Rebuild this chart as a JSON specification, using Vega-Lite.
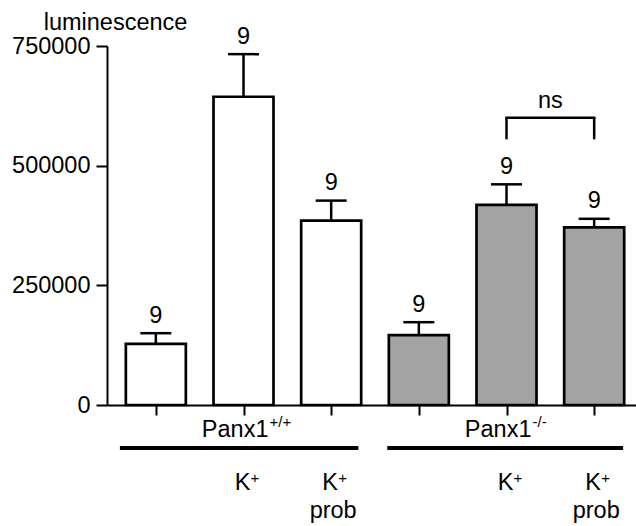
{
  "$schema": "https://vega.github.io/schema/vega-lite/v6.json",
  "autosize": "none",
  "padding": {"left": 107, "top": 46, "right": 0, "bottom": 121},
  "width": 529,
  "height": 359,
  "background": "white",
  "config": {
    "view": {"stroke": null},
    "font": "Liberation Sans",
    "text": {"font": "Liberation Sans", "color": "black"},
    "axis": {"domainColor": "black", "tickColor": "black", "grid": false, "domainWidth": 2, "tickWidth": 2}
  },
  "datasets": {
    "bars": [
      {"genotype": "Panx1+/+", "cond": "control", "pos": 1, "mean": 127500, "err": 150000, "n": "9"},
      {"genotype": "Panx1+/+", "cond": "K+", "pos": 2, "mean": 644000, "err": 733000, "n": "9"},
      {"genotype": "Panx1+/+", "cond": "K+ prob", "pos": 3, "mean": 385000, "err": 427000, "n": "9"},
      {"genotype": "Panx1-/-", "cond": "control", "pos": 4, "mean": 146000, "err": 173000, "n": "9"},
      {"genotype": "Panx1-/-", "cond": "K+", "pos": 5, "mean": 418000, "err": 461000, "n": "9"},
      {"genotype": "Panx1-/-", "cond": "K+ prob", "pos": 6, "mean": 371000, "err": 389000, "n": "9"}
    ],
    "bracket": [
      {"a": 5, "b": 6, "low": 555000, "high": 600000, "label": "ns"}
    ],
    "groups": [
      {"name": "Panx1", "sup": "+/+", "pos": 2, "start": 0.59, "end": 3.31},
      {"name": "Panx1", "sup": "-/-", "pos": 5, "start": 3.64, "end": 6.33}
    ],
    "klabels": [
      {"pos": 2, "k": "K", "plus": "+", "prob": ""},
      {"pos": 3, "k": "K", "plus": "+", "prob": "prob"},
      {"pos": 5, "k": "K", "plus": "+", "prob": ""},
      {"pos": 6, "k": "K", "plus": "+", "prob": "prob"}
    ]
  },
  "layer": [
    {
      "data": {"name": "bars"},
      "mark": {"type": "bar", "size": 60, "stroke": "black", "strokeWidth": 2.7},
      "encoding": {
        "x": {
          "field": "pos", "type": "quantitative",
          "scale": {"domain": [0.5, 6.42], "nice": false, "zero": false},
          "axis": {"values": [1, 2, 3, 4, 5, 6], "labels": false, "title": null, "tickSize": 10}
        },
        "y": {
          "field": "mean", "type": "quantitative",
          "scale": {"domain": [0, 750000], "nice": false},
          "axis": {
            "values": [0, 250000, 500000, 750000], "format": "d",
            "labelFontSize": 23.5, "labelColor": "black", "labelFont": "Liberation Sans",
            "labelPadding": 6, "tickSize": 11,
            "title": "luminescence", "titleAngle": 0, "titleX": 8, "titleY": -17,
            "titleAlign": "center", "titleBaseline": "alphabetic",
            "titleFontSize": 23.5, "titleFontWeight": "normal", "titleColor": "black", "titleFont": "Liberation Sans"
          }
        },
        "fill": {
          "field": "genotype", "type": "nominal",
          "scale": {"domain": ["Panx1+/+", "Panx1-/-"], "range": ["white", "#a3a3a3"]},
          "legend": null
        }
      }
    },
    {
      "data": {"name": "bars"},
      "mark": {"type": "rule", "strokeWidth": 2.5, "color": "black"},
      "encoding": {
        "x": {"field": "pos", "type": "quantitative"},
        "y": {"field": "mean", "type": "quantitative"},
        "y2": {"field": "err"}
      }
    },
    {
      "data": {"name": "bars"},
      "mark": {"type": "tick", "orient": "horizontal", "size": 31, "thickness": 2.5, "color": "black", "opacity": 1},
      "encoding": {
        "x": {"field": "pos", "type": "quantitative"},
        "y": {"field": "err", "type": "quantitative"}
      }
    },
    {
      "data": {"name": "bars"},
      "mark": {"type": "text", "fontSize": 23.5, "baseline": "alphabetic", "dy": -10.5, "align": "center"},
      "encoding": {
        "x": {"field": "pos", "type": "quantitative"},
        "y": {"field": "err", "type": "quantitative"},
        "text": {"field": "n"}
      }
    },
    {
      "data": {"name": "bracket"},
      "mark": {"type": "rule", "strokeWidth": 2.5, "color": "black", "strokeCap": "square"},
      "encoding": {
        "x": {"field": "a", "type": "quantitative"},
        "x2": {"field": "b"},
        "y": {"field": "high", "type": "quantitative"}
      }
    },
    {
      "data": {"name": "bracket"},
      "mark": {"type": "rule", "strokeWidth": 2.5, "color": "black"},
      "encoding": {
        "x": {"field": "a", "type": "quantitative"},
        "y": {"field": "low", "type": "quantitative"},
        "y2": {"field": "high"}
      }
    },
    {
      "data": {"name": "bracket"},
      "mark": {"type": "rule", "strokeWidth": 2.5, "color": "black"},
      "encoding": {
        "x": {"field": "b", "type": "quantitative"},
        "y": {"field": "low", "type": "quantitative"},
        "y2": {"field": "high"}
      }
    },
    {
      "data": {"name": "bracket"},
      "mark": {"type": "text", "fontSize": 23.5, "baseline": "alphabetic", "align": "center", "dy": -10, "dx": 0},
      "encoding": {
        "x": {"datum": 5.5, "type": "quantitative"},
        "y": {"field": "high", "type": "quantitative"},
        "text": {"field": "label"}
      }
    },
    {
      "data": {"name": "groups"},
      "mark": {"type": "text", "fontSize": 23.5, "baseline": "alphabetic", "align": "right", "dx": 25, "dy": 32},
      "encoding": {
        "x": {"field": "pos", "type": "quantitative"},
        "y": {"datum": 0, "type": "quantitative"},
        "text": {"field": "name"}
      }
    },
    {
      "data": {"name": "groups"},
      "mark": {"type": "text", "fontSize": 15, "baseline": "alphabetic", "align": "left", "dx": 26, "dy": 22},
      "encoding": {
        "x": {"field": "pos", "type": "quantitative"},
        "y": {"datum": 0, "type": "quantitative"},
        "text": {"field": "sup"}
      }
    },
    {
      "data": {"name": "groups"},
      "mark": {"type": "rule", "strokeWidth": 4, "color": "black", "yOffset": 43},
      "encoding": {
        "x": {"field": "start", "type": "quantitative"},
        "x2": {"field": "end"},
        "y": {"datum": 0, "type": "quantitative"}
      }
    },
    {
      "data": {"name": "klabels"},
      "mark": {"type": "text", "fontSize": 23.5, "baseline": "alphabetic", "align": "center", "dx": -1, "dy": 85},
      "encoding": {
        "x": {"field": "pos", "type": "quantitative"},
        "y": {"datum": 0, "type": "quantitative"},
        "text": {"field": "k"}
      }
    },
    {
      "data": {"name": "klabels"},
      "mark": {"type": "text", "fontSize": 15, "baseline": "alphabetic", "align": "left", "dx": 7, "dy": 78},
      "encoding": {
        "x": {"field": "pos", "type": "quantitative"},
        "y": {"datum": 0, "type": "quantitative"},
        "text": {"field": "plus"}
      }
    },
    {
      "data": {"name": "klabels"},
      "mark": {"type": "text", "fontSize": 23.5, "baseline": "alphabetic", "align": "center", "dx": 2, "dy": 113},
      "encoding": {
        "x": {"field": "pos", "type": "quantitative"},
        "y": {"datum": 0, "type": "quantitative"},
        "text": {"field": "prob"}
      }
    }
  ]
}
